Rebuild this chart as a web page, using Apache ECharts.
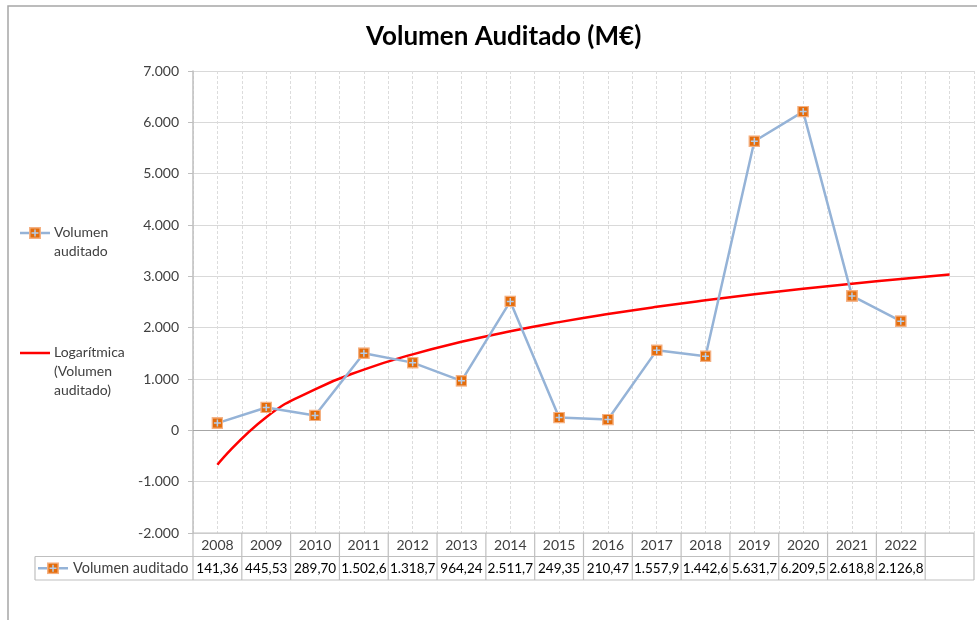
<!DOCTYPE html>
<html>
<head>
<meta charset="utf-8">
<script src="https://cdn.jsdelivr.net/npm/echarts@6/dist/echarts.min.js"></script>
<style>html,body{margin:0;padding:0;background:#fff}#c{width:977px;height:620px}</style>
</head>
<body>
<div id="c"></div>
<script>
// ---- data ----
var titleText = 'Volumen Auditado (M€)';
var years = ['2008','2009','2010','2011','2012','2013','2014','2015','2016','2017','2018','2019','2020','2021','2022',''];
var seriesName = 'Volumen auditado';
var volumen = [141.36, 445.53, 289.70, 1502.6, 1318.7, 964.24, 2511.7, 249.35, 210.47, 1557.9, 1442.6, 5631.7, 6209.5, 2618.8, 2126.8];
var trendName = 'Logarítmica (Volumen auditado)';
var trend = [-670, 256, 798, 1182, 1480, 1724, 1930, 2108, 2265, 2406, 2533, 2650, 2756, 2856, 2948, 3034];
var legendLabels = ['Volumen\nauditado', 'Logarítmica\n(Volumen\nauditado)'];
var yTicks = {min: -2000, max: 7000, step: 1000};

var FONT = 'Lato, "Open Sans", sans-serif';
var TXT = '#404040';
var LINE = '#95B3D7';
var RED = '#FF0000';

function thousands(s){ return s.replace(/\B(?=(\d{3})+(?!\d))/g, '.'); }
function fmtAxis(v){ return (v < 0 ? '-' : '') + thousands(String(Math.abs(v))); }
function fmtCell(v){
  if (v < 1000) return v.toFixed(2).replace('.', ',');
  var s = v.toFixed(1).split('.');
  return thousands(s[0]) + ',' + s[1];
}

var svg = "<svg xmlns='http://www.w3.org/2000/svg' width='12' height='12'>" +
  "<rect x='0.75' y='0.75' width='10.5' height='10.5' fill='#E46C0A' stroke='#F4B183' stroke-width='1.5'/>" +
  "<path d='M6 2.5V9.5M2.5 6H9.5' stroke='#B4CDEA' stroke-width='1.5'/></svg>";
var markerSrc = 'data:image/svg+xml;charset=utf-8,' + encodeURIComponent(svg);
var markerImg = 'image://' + markerSrc;

var chart = echarts.init(document.getElementById('c'), null, {renderer: 'canvas'});

var option = {
  animation: false,
  backgroundColor: '#fff',
  title: {
    text: titleText, left: 361, top: 19,
    textStyle: {fontFamily: FONT, fontSize: 26, fontWeight: 'bold', color: '#000'}
  },
  legend: {show: false, data: [seriesName, trendName]},
  grid: {left: 193, right: 3, top: 71, bottom: 87, containLabel: false},
  xAxis: [
    {
      type: 'category', data: years, boundaryGap: true,
      axisLine: {show: false}, axisTick: {show: false}, splitLine: {show: false},
      axisLabel: {margin: 5, fontFamily: FONT, fontSize: 14, color: TXT, interval: 0}
    },
    {
      type: 'value', min: 0, max: 32, interval: 1, position: 'bottom',
      axisLine: {show: false}, axisTick: {show: false}, axisLabel: {show: false},
      splitLine: {show: true, lineStyle: {color: '#dcdcdc', type: [3, 2], width: 1}}
    }
  ],
  yAxis: {
    type: 'value', min: yTicks.min, max: yTicks.max, interval: yTicks.step,
    axisLine: {show: true, lineStyle: {color: '#bfbfbf', width: 1.5}},
    axisTick: {show: true, length: 5, lineStyle: {color: '#bfbfbf'}},
    axisLabel: {margin: 14, fontFamily: FONT, fontSize: 14, color: TXT, formatter: fmtAxis},
    splitLine: {show: true, lineStyle: {color: '#d9d9d9', width: 1}}
  },
  series: [
    {
      name: trendName, type: 'line', data: trend, smooth: true, symbol: 'none',
      color: RED, lineStyle: {color: RED, width: 2.5}, z: 3
    },
    {
      name: seriesName, type: 'line', data: volumen, color: LINE,
      lineStyle: {color: LINE, width: 2.5},
      symbol: markerImg, symbolSize: 12, showSymbol: true, z: 4,
      markLine: {
        silent: true, symbol: 'none', label: {show: false},
        lineStyle: {color: '#a6a6a6', type: 'solid', width: 1.2},
        data: [{yAxis: 0}], z: 2
      }
    }
  ]
};
chart.setOption(option);

// ---- legend + data table, positioned from the axis scale ----
var c0 = chart.convertToPixel({xAxisIndex: 0}, 0);
var c1 = chart.convertToPixel({xAxisIndex: 0}, 1);
var w = c1 - c0;
var left = c0 - w / 2;
var yTop = chart.convertToPixel({yAxisIndex: 0}, yTicks.min);
var rowH = 23.5;
var y1 = yTop + rowH, y2 = yTop + 2 * rowH;
var tableLeft = 35;
var right = left + w * years.length;
var gcol = '#bfbfbf';
var els = [];
els.push({type: 'rect', shape: {x: 8, y: 6, width: 1000, height: 700}, style: {fill: 'none', stroke: '#a6a6a6', lineWidth: 1.5}, silent: true});

// legend
var lg = [{y: 233, color: LINE, marker: true, text: legendLabels[0]}, {y: 353, color: RED, marker: false, text: legendLabels[1]}];
lg.forEach(function(it){
  els.push({type: 'line', shape: {x1: 20, y1: it.y, x2: 50, y2: it.y}, style: {stroke: it.color, lineWidth: 2.5}});
  if (it.marker) els.push({type: 'image', style: {image: markerSrc, x: 29, y: it.y - 6, width: 12, height: 12}});
  els.push({type: 'text', style: {text: it.text, x: 54, y: it.y - 9.5, verticalAlign: 'top', align: 'left', lineHeight: 18.7, fontFamily: FONT, fontSize: 14, fill: TXT}});
});

// table
els.push({type: 'line', shape: {x1: tableLeft, y1: y1, x2: right, y2: y1}, style: {stroke: gcol, lineWidth: 1.2}});
els.push({type: 'line', shape: {x1: tableLeft, y1: y2, x2: right, y2: y2}, style: {stroke: gcol, lineWidth: 1.2}});
els.push({type: 'line', shape: {x1: left, y1: yTop, x2: right, y2: yTop}, style: {stroke: gcol, lineWidth: 1.2}});
els.push({type: 'line', shape: {x1: tableLeft, y1: y1, x2: tableLeft, y2: y2}, style: {stroke: gcol, lineWidth: 1.2}});
for (var i = 0; i <= years.length; i++) {
  var xb = left + i * w;
  els.push({type: 'line', shape: {x1: xb, y1: yTop, x2: xb, y2: y2}, style: {stroke: gcol, lineWidth: 1.2}});
}
var midY = (y1 + y2) / 2;
els.push({type: 'line', shape: {x1: 38, y1: midY, x2: 68, y2: midY}, style: {stroke: LINE, lineWidth: 2.5}});
els.push({type: 'image', style: {image: markerSrc, x: 47, y: midY - 6, width: 12, height: 12}});
els.push({type: 'text', style: {text: seriesName, x: 73, y: midY, verticalAlign: 'middle', align: 'left', fontFamily: FONT, fontSize: 14.5, fill: TXT}});
for (var j = 0; j < volumen.length; j++) {
  var cx = chart.convertToPixel({xAxisIndex: 0}, j);
  els.push({type: 'text', style: {text: fmtCell(volumen[j]), x: cx, y: midY, verticalAlign: 'middle', align: 'center', fontFamily: FONT, fontSize: 13.5, fill: '#000'}});
}
chart.setOption({graphic: {elements: els}});
</script>
</body>
</html>
